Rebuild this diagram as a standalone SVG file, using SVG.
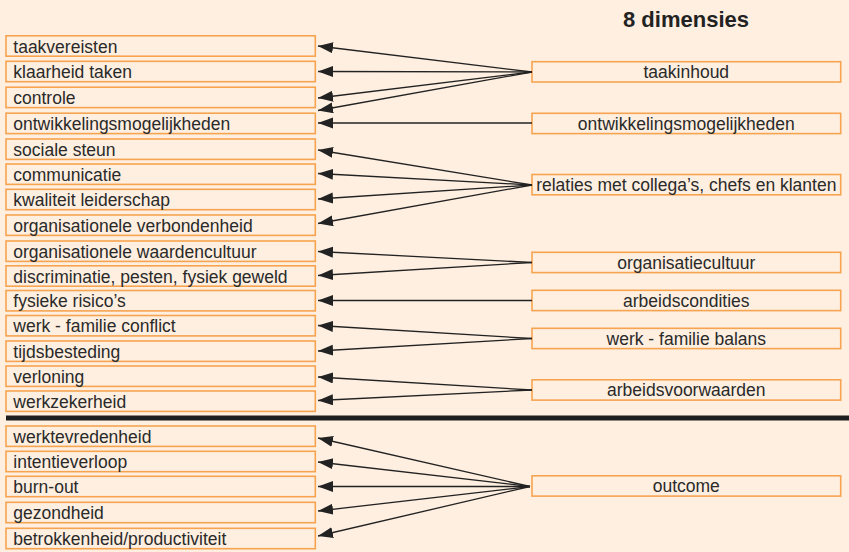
<svg xmlns="http://www.w3.org/2000/svg" width="849" height="552" viewBox="0 0 849 552">
<defs>
<style>
.bx{fill:none;stroke:#F7A450;stroke-width:1.6}
.t{font-family:"Liberation Sans",Arial,sans-serif;font-size:17.5px;fill:#2a2a2a}
.c{text-anchor:middle}
.ttl{font-family:"Liberation Sans",Arial,sans-serif;font-size:22px;font-weight:bold;fill:#222;text-anchor:middle}
.ln{stroke:#222;stroke-width:1.3;fill:none;marker-end:url(#ah)}
</style>
<marker id="ah" markerUnits="userSpaceOnUse" markerWidth="16" markerHeight="12" refX="15" refY="5.5" orient="auto">
<path d="M0,0 L15,5.5 L0,11 Z" fill="#222"/>
</marker>
</defs>
<rect width="849" height="552" fill="#FEEFE0"/>
<text class="ttl" x="686" y="27">8 dimensies</text>
<g id="left-nodes">
<g id="n-taakvereisten"><rect class="bx" x="6" y="35.8" width="309.3" height="20.4"/><text class="t" x="13.3" y="52.5">taakvereisten</text></g>
<g id="n-klaarheid"><rect class="bx" x="6" y="61.3" width="309.3" height="20.4"/><text class="t" x="13.3" y="78">klaarheid taken</text></g>
<g id="n-controle"><rect class="bx" x="6" y="87.2" width="309.3" height="20.4"/><text class="t" x="13.3" y="103.9">controle</text></g>
<g id="n-ontwikkel"><rect class="bx" x="6" y="113.2" width="309.3" height="20.4"/><text class="t" x="13.3" y="129.9">ontwikkelingsmogelijkheden</text></g>
<g id="n-sociale"><rect class="bx" x="6" y="139" width="309.3" height="20.4"/><text class="t" x="13.3" y="155.7">sociale steun</text></g>
<g id="n-communicatie"><rect class="bx" x="6" y="164" width="309.3" height="20.4"/><text class="t" x="13.3" y="180.7">communicatie</text></g>
<g id="n-kwaliteit"><rect class="bx" x="6" y="189.3" width="309.3" height="20.4"/><text class="t" x="13.3" y="206">kwaliteit leiderschap</text></g>
<g id="n-verbondenheid"><rect class="bx" x="6" y="215" width="309.3" height="20.4"/><text class="t" x="13.3" y="231.7">organisationele verbondenheid</text></g>
<g id="n-waardencultuur"><rect class="bx" x="6" y="241" width="309.3" height="20.4"/><text class="t" x="13.3" y="257.7">organisationele waardencultuur</text></g>
<g id="n-discriminatie"><rect class="bx" x="6" y="265.8" width="309.3" height="20.4"/><text class="t" x="13.3" y="282.5">discriminatie, pesten, fysiek geweld</text></g>
<g id="n-fysieke"><rect class="bx" x="6" y="290.5" width="309.3" height="20.4"/><text class="t" x="13.3" y="307.2">fysieke risico’s</text></g>
<g id="n-conflict"><rect class="bx" x="6" y="315.5" width="309.3" height="20.4"/><text class="t" x="13.3" y="332.2">werk - familie conflict</text></g>
<g id="n-tijdsbesteding"><rect class="bx" x="6" y="341" width="309.3" height="20.4"/><text class="t" x="13.3" y="357.7">tijdsbesteding</text></g>
<g id="n-verloning"><rect class="bx" x="6" y="366" width="309.3" height="20.4"/><text class="t" x="13.3" y="382.7">verloning</text></g>
<g id="n-werkzekerheid"><rect class="bx" x="6" y="391" width="309.3" height="20.4"/><text class="t" x="13.3" y="407.7">werkzekerheid</text></g>
<g id="n-werktevredenheid"><rect class="bx" x="6" y="426" width="309.3" height="20.4"/><text class="t" x="13.3" y="442.7">werktevredenheid</text></g>
<g id="n-intentieverloop"><rect class="bx" x="6" y="451.3" width="309.3" height="20.4"/><text class="t" x="13.3" y="468">intentieverloop</text></g>
<g id="n-burnout"><rect class="bx" x="6" y="476.3" width="309.3" height="20.4"/><text class="t" x="13.3" y="493">burn-out</text></g>
<g id="n-gezondheid"><rect class="bx" x="6" y="502.3" width="309.3" height="20.4"/><text class="t" x="13.3" y="519">gezondheid</text></g>
<g id="n-betrokkenheid"><rect class="bx" x="6" y="528.3" width="309.3" height="20.4"/><text class="t" x="13.3" y="545">betrokkenheid/productiviteit</text></g>
</g>
<g id="right-nodes">
<g id="d-taakinhoud"><rect class="bx" x="532" y="61.7" width="308.7" height="20.3"/><text class="t c" x="686.3" y="78">taakinhoud</text></g>
<g id="d-ontwikkel"><rect class="bx" x="532" y="113.3" width="308.7" height="20.3"/><text class="t c" x="686.3" y="129.6">ontwikkelingsmogelijkheden</text></g>
<g id="d-relaties"><rect class="bx" x="532" y="174.5" width="308.7" height="20.3"/><text class="t c" x="686.3" y="190.8">relaties met collega’s, chefs en klanten</text></g>
<g id="d-organisatiecultuur"><rect class="bx" x="532" y="252.3" width="308.7" height="20.3"/><text class="t c" x="686.3" y="268.6">organisatiecultuur</text></g>
<g id="d-arbeidscondities"><rect class="bx" x="532" y="290.3" width="308.7" height="20.3"/><text class="t c" x="686.3" y="306.6">arbeidscondities</text></g>
<g id="d-balans"><rect class="bx" x="532" y="328.3" width="308.7" height="20.3"/><text class="t c" x="686.3" y="344.6">werk - familie balans</text></g>
<g id="d-arbeidsvoorwaarden"><rect class="bx" x="532" y="379.8" width="308.7" height="20.3"/><text class="t c" x="686.3" y="396.1">arbeidsvoorwaarden</text></g>
<g id="d-outcome"><rect class="bx" x="532" y="475.8" width="308.7" height="20.3"/><text class="t c" x="686.3" y="492.1">outcome</text></g>
</g>
<line id="divider" x1="6" y1="418" x2="849" y2="418" stroke="#1e1e1e" stroke-width="5"/>
<g id="connectors">
<line class="ln" x1="532" y1="72" x2="318" y2="46"/>
<line class="ln" x1="532" y1="72" x2="318" y2="71.5"/>
<line class="ln" x1="532" y1="72" x2="318" y2="98"/>
<line class="ln" x1="532" y1="72" x2="318" y2="110.5"/>
<line class="ln" x1="532" y1="123" x2="318" y2="123"/>
<line class="ln" x1="532" y1="185" x2="318" y2="150"/>
<line class="ln" x1="532" y1="185" x2="318" y2="173.5"/>
<line class="ln" x1="532" y1="185" x2="318" y2="199"/>
<line class="ln" x1="532" y1="185" x2="318" y2="223.5"/>
<line class="ln" x1="532" y1="262.5" x2="318" y2="251.5"/>
<line class="ln" x1="532" y1="262.5" x2="318" y2="275.5"/>
<line class="ln" x1="532" y1="300.5" x2="318" y2="300.5"/>
<line class="ln" x1="532" y1="338.5" x2="318" y2="325.5"/>
<line class="ln" x1="532" y1="338.5" x2="318" y2="351"/>
<line class="ln" x1="532" y1="390" x2="318" y2="377"/>
<line class="ln" x1="532" y1="390" x2="318" y2="400.5"/>
<line class="ln" x1="530" y1="486.5" x2="318" y2="438"/>
<line class="ln" x1="530" y1="486.5" x2="318" y2="462"/>
<line class="ln" x1="530" y1="486.5" x2="318" y2="486.5"/>
<line class="ln" x1="530" y1="486.5" x2="318" y2="511"/>
<line class="ln" x1="530" y1="486.5" x2="318" y2="536"/>
</g>
</svg>
